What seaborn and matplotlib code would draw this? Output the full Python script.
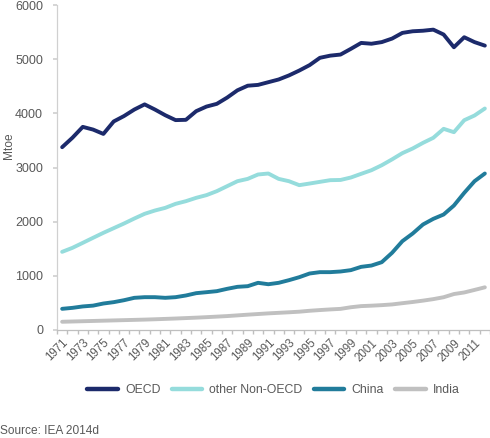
import numpy as np
import pandas as pd
import matplotlib
matplotlib.use("Agg")
import matplotlib.pyplot as plt
import seaborn as sns

years = list(range(1971, 2013))
oecd = [3375, 3550, 3750, 3700, 3620, 3850, 3950, 4070, 4165, 4070, 3965, 3875,
        3880, 4040, 4125, 4175, 4290, 4425, 4510, 4525, 4575, 4625, 4700, 4790,
        4890, 5025, 5065, 5085, 5190, 5300, 5285, 5315, 5380, 5485, 5515, 5525,
        5545, 5455, 5220, 5405, 5315, 5250]
other_non_oecd = [1443, 1517, 1609, 1702, 1794, 1880, 1966, 2058, 2145, 2206, 2255, 2329,
                  2378, 2440, 2490, 2563, 2655, 2747, 2790, 2871, 2889, 2790, 2747, 2674,
                  2704, 2735, 2766, 2770, 2815, 2883, 2950, 3042, 3150, 3265, 3351, 3455,
                  3548, 3714, 3652, 3873, 3960, 4089]
china = [391, 409, 435, 450, 489, 514, 550, 594, 606, 606, 594, 606,
         637, 680, 698, 717, 760, 797, 809, 871, 845, 871, 920, 975,
         1043, 1068, 1068, 1080, 1105, 1166, 1190, 1252, 1425, 1640, 1781, 1948,
         2052, 2132, 2298, 2532, 2747, 2889]
india = [152, 157, 162, 167, 172, 177, 182, 187, 192, 198, 205, 212,
         220, 228, 237, 247, 257, 270, 283, 295, 307, 317, 327, 338,
         355, 368, 380, 390, 420, 441, 449, 459, 472, 495, 517, 542,
         570, 605, 664, 693, 740, 788]
series_names = ["OECD", "other Non-OECD", "China", "India"]
colors = ["#1c2a6b", "#95dcdc", "#217c9b", "#c0c0c0"]
yticks = [0, 1000, 2000, 3000, 4000, 5000, 6000]

sns.set_theme(style="white")
plt.rcParams["font.family"] = ["Liberation Sans", "DejaVu Sans"]

idx = list(range(len(years)))
df = pd.concat([
    pd.DataFrame({"idx": idx, "year": years, "value": vals, "series": name})
    for name, vals in zip(series_names, [oecd, other_non_oecd, china, india])
])

fig = plt.figure(figsize=(4.9, 4.38), dpi=100)
ax = fig.add_axes([57/490, 1 - 330/438, 433/490, 325/438])

sns.lineplot(data=df, x="idx", y="value", hue="series", hue_order=series_names,
             palette=colors, linewidth=2.8, ax=ax, legend=True)

txt_color = "#595959"
ax.set_xlim(-0.5, len(years) - 0.5)
ax.set_ylim(0, 6000)
ax.set_yticks(yticks)
ax.set_yticklabels([str(v) for v in yticks], fontsize=9, color=txt_color)
ax.set_xticks(idx[::2])
ax.set_xticklabels([str(y) for y in years[::2]], rotation=45, ha="right",
                   rotation_mode="anchor", fontsize=8.3, color=txt_color)
ax.set_xticks(np.arange(-0.5, len(years), 1.0), minor=True)
ax.tick_params(axis="x", which="major", length=0, pad=5)
ax.tick_params(axis="x", which="minor", length=3, color="#bfbfbf", direction="out", bottom=True)
ax.tick_params(axis="y", length=3, color="#d0d0d0", direction="out", left=True, pad=7)
ax.set_xlabel("")
ax.set_ylabel("Mtoe", fontsize=8.6, color=txt_color)
ax.yaxis.set_label_coords(-0.097, 0.566)

for s in ["top", "right"]:
    ax.spines[s].set_visible(False)
ax.spines["left"].set_color("#d0d0d0")
ax.spines["bottom"].set_color("#bfbfbf")
ax.spines["left"].set_linewidth(0.9)
ax.spines["bottom"].set_linewidth(0.9)

handles, labels = ax.get_legend_handles_labels()
for h in handles:
    h.set_linewidth(3.2)
ax.legend(handles, labels, loc="center", bbox_to_anchor=(0.5, -0.185), ncol=4,
          frameon=False, fontsize=8.8, handlelength=2.5, handletextpad=0.6,
          columnspacing=0.9, labelcolor=txt_color)

fig.text(0.0, 0.003, "Source: IEA 2014d", va="bottom", ha="left",
         fontsize=8.6, color=txt_color)

fig.savefig("out.png", dpi=100)
